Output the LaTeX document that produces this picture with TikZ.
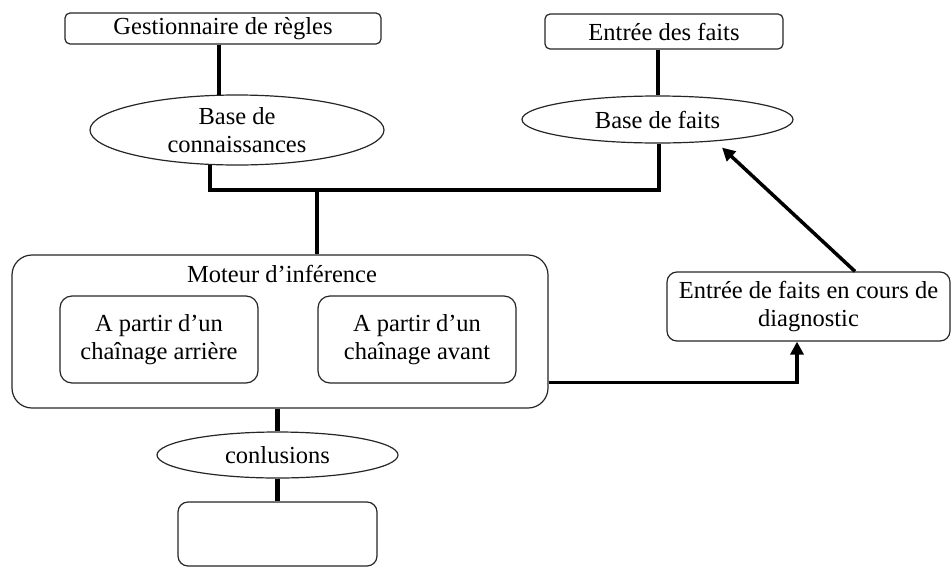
\documentclass[tikz,border=0pt]{standalone}
\usepackage{fontspec}
\setmainfont{Liberation Serif}
\usetikzlibrary{calc,shapes.geometric,arrows.meta}
\begin{document}
\begin{tikzpicture}[x=1pt,y=-1pt,
  font=\fontsize{24.5}{28}\selectfont,
  box/.style={draw=black!85,line width=1.2pt,rounded corners=#1,align=center,inner sep=0pt,fill=white},
  box/.default=5pt,
  oval/.style={draw=black!85,line width=1.2pt,ellipse,align=center,inner sep=0pt,fill=white},
  link/.style={line width=4.5pt},
  feed/.style={line width=3.5pt,-{Triangle[length=13pt,width=13pt]}}]
\useasboundingbox (0,0) rectangle (952,568);

% upper row: rule manager and fact input
\node[box,minimum width=316pt,minimum height=31pt] (gest) at (223,28.5) {Gestionnaire de règles};
\node[box,minimum width=238pt,minimum height=35pt] (entree) at (664,31.5) {Entrée des faits};

% knowledge and fact bases
\node[oval,minimum width=294pt,minimum height=70pt] (bdc) at (237,130) {Base de\\connaissances};
\node[oval,minimum width=271pt,minimum height=47pt] (bdf) at (657.5,119.5) {Base de faits};

% inference engine with its two chaining modes
\node[box=20pt,minimum width=536pt,minimum height=153pt] (moteur) at (280,331.5) {};
\node (moteurlbl) at (282,274) {Moteur d’inférence};
\node[box=12pt,minimum width=198pt,minimum height=87pt] (arriere) at (159,339.5) {A partir d’un\\chaînage arrière};
\node[box=12pt,minimum width=198pt,minimum height=87pt] (avant) at (417,339.5) {A partir d’un\\chaînage avant};

% facts entered during diagnosis
\node[box=10pt,minimum width=283pt,minimum height=69pt] (diag) at (808.5,306.5) {Entrée de faits en cours de\\diagnostic};

% conclusions and result
\node[oval,minimum width=241pt,minimum height=46pt] (concl) at (277.5,455) {conlusions};
\node[box=10pt,minimum width=199pt,minimum height=64pt] (res) at (277.5,534) {};

% connectors
\coordinate (bus) at (317,190);
\draw[link] ($(gest.south)+(-4,0)$) -- ($(bdc.north)+(-18,0.5)$);
\draw[link] (entree.south) ++(-6,0) -- ($(bdf.north)+(0.5,0)$);
\draw[link] ($(bdc.south)+(-27,-0.6)$) |- (bus) -| ($(bdf.south)+(1.5,0)$);
\draw[link] (bus) -- (bus |- moteur.north);
\draw[link] (concl.north |- moteur.south) -- (concl.north);
\draw[link] (concl.south) -- (res.north);
\draw[feed] ($(moteur.south east)+(0,-26)$) -| ($(diag.south)+(-11.5,0)$);
\draw[feed] ($(diag.north)+(46.5,0)$) -- ($(bdf.south)+(64.5,4)$);
\end{tikzpicture}
\end{document}
